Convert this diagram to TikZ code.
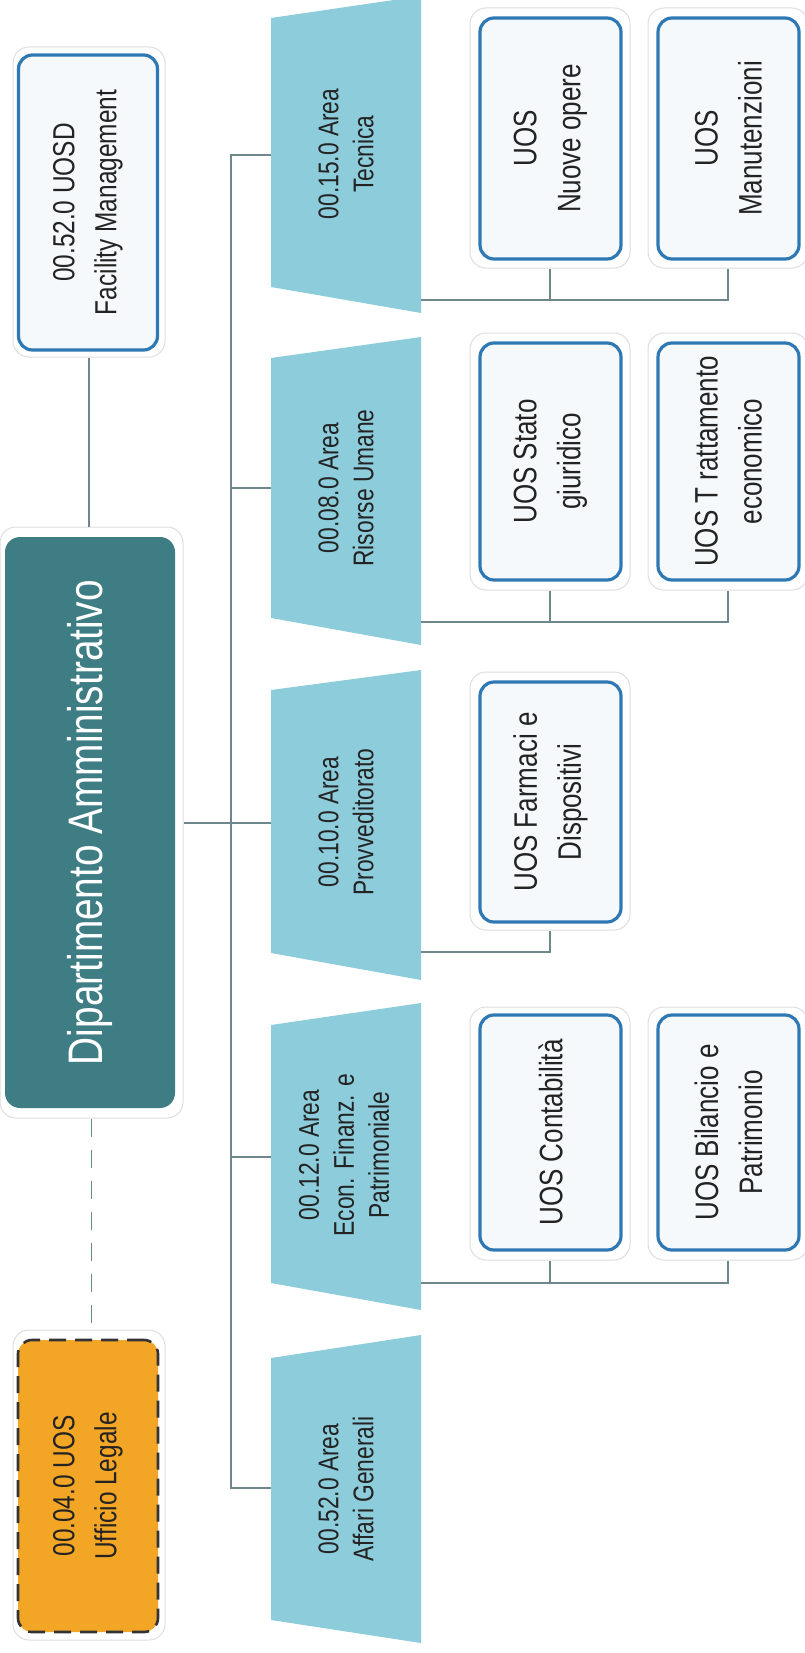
\documentclass[tikz,border=0pt]{standalone}
\usepackage{fontspec}
\setmainfont{Liberation Sans}[FakeStretch=0.8]
\definecolor{areafill}{RGB}{141,204,219}
\definecolor{tealc}{RGB}{62,125,132}
\definecolor{uosblue}{RGB}{46,120,180}
\definecolor{uosfill}{RGB}{246,249,251}
\definecolor{orangec}{RGB}{243,166,38}
\definecolor{connc}{RGB}{110,135,140}
\definecolor{txtc}{RGB}{35,35,35}
\definecolor{glowc}{RGB}{222,222,222}
\begin{document}
\begin{tikzpicture}[x=1pt,y=-1pt,
  conn/.style={draw=connc, line width=1.3pt},
  glow/.style={draw=glowc, fill=white, rounded corners=16pt, line width=1pt, inner sep=0pt},
  uosbox/.style={draw=uosblue, fill=uosfill, rounded corners=14pt, line width=3.2pt, inner sep=0pt},
  legalbox/.style={draw=black!80, fill=orangec, rounded corners=14pt, line width=2.6pt, dash pattern=on 17pt off 9pt, inner sep=0pt},
  dipbox/.style={fill=tealc, rounded corners=15pt, inner sep=0pt},
  areashape/.style={fill=areafill},
  uostext/.style={rotate=90, align=center, text=txtc, inner sep=0pt, font=\fontsize{32.5}{44}\selectfont},
  areatext/.style={rotate=90, align=center, text=txtc, inner sep=0pt, font=\fontsize{28.5}{35}\selectfont},
  toptext/.style={rotate=90, align=center, text=txtc, inner sep=0pt, font=\fontsize{30.5}{42}\selectfont},
  diptext/.style={rotate=90, align=center, text=white, inner sep=0pt, font=\fontsize{48.5}{58}\selectfont}
]
\useasboundingbox[fill=white] (0,0) rectangle (805,1653);

% ---------- left column ----------
\node[glow, minimum width=152pt, minimum height=310pt] (facO) at (89,202) {};
\node[uosbox, minimum width=139pt, minimum height=295pt] (fac) at (88,202.5) {};
\node[toptext] (facT) at (fac) {00.52.0 UOSD\\Facility Management};

\node[glow, minimum width=183pt, minimum height=591pt] (dipO) at (91.5,822.5) {};
\node[dipbox, minimum width=170pt, minimum height=571pt] (dip) at (90,822.5) {};
\node[diptext] (dipT) at (dip) {Dipartimento Amministrativo};

\node[glow, minimum width=152pt, minimum height=310pt] (legO) at (89,1485) {};
\node[legalbox, minimum width=140pt, minimum height=292pt] (leg) at (88,1486) {};
\node[toptext] (legT) at (leg) {00.04.0 UOS\\Ufficio Legale};

\draw[conn] (facO.south) -- (facO.south |- dipO.north);
\draw[conn, line width=1.1pt, dash pattern=on 18pt off 13pt] (dipO.south) -- (dipO.south |- legO.north);

% ---------- areas ----------
\fill[areashape] (271,18) -- (421,-4) -- (421,313) -- (271,287) -- cycle;
\fill[areashape] (271,358) -- (421,337) -- (421,645) -- (271,618) -- cycle;
\fill[areashape] (271,690) -- (421,670) -- (421,980) -- (271,953) -- cycle;
\fill[areashape] (271,1025) -- (421,1003) -- (421,1310) -- (271,1283) -- cycle;
\fill[areashape] (271,1358) -- (421,1335) -- (421,1643) -- (271,1620) -- cycle;

\node[areatext] (tec) at (346,154) {00.15.0 Area\\Tecnica};
\node[areatext] (ris) at (346,488) {00.08.0 Area\\Risorse Umane};
\node[areatext] (pro) at (346,822) {00.10.0 Area\\Provveditorato};
\node[areatext] (eco) at (344,1155) {00.12.0 Area\\Econ. Finanz. e\\Patrimoniale};
\node[areatext] (aff) at (346,1489) {00.52.0 Area\\Affari Generali};

\coordinate (tecL) at (271,155);
\coordinate (risL) at (271,488);
\coordinate (proL) at (271,823);
\coordinate (ecoL) at (271,1157);
\coordinate (affL) at (271,1488);
\coordinate (busTop) at (231,155);
\coordinate (busBot) at (231,1488);

\coordinate (tecR) at (421,300);
\coordinate (risR) at (421,622);
\coordinate (proR) at (421,952);
\coordinate (ecoR) at (421,1283);

\draw[conn] (tecL) -- (busTop) -- (busBot) -- (affL);
\draw[conn] (risL) -- (risL -| busTop);
\draw[conn] (dipO.east |- proL) -- (proL);
\draw[conn] (ecoL) -- (ecoL -| busTop);

% ---------- UOS boxes ----------
% Tecnica
\node[glow, minimum width=160pt, minimum height=260pt] (nuoO) at (550,138) {};
\node[uosbox, minimum width=141pt, minimum height=241pt] (nuo) at (550.5,138.5) {};
\node[uostext] (nuoT) at (nuo) {UOS\\Nuove opere};
\node[glow, minimum width=160pt, minimum height=260pt] (manO) at (728,138) {};
\node[uosbox, minimum width=141pt, minimum height=241pt] (man) at (728.5,138.5) {};
\node[uostext] (manT) at (man) {UOS\\Manutenzioni};

% Risorse Umane
\node[glow, minimum width=160pt, minimum height=257pt] (staO) at (550,461.5) {};
\node[uosbox, minimum width=141pt, minimum height=237pt] (sta) at (550.5,461.5) {};
\node[uostext] (staT) at (sta) {UOS Stato\\giuridico};
\node[glow, minimum width=160pt, minimum height=257pt] (traO) at (728,461.5) {};
\node[uosbox, minimum width=141pt, minimum height=237pt] (tra) at (728.5,461.5) {};
\node[uostext] (traT) at (tra) {UOS T rattamento\\economico};

% Provveditorato
\node[glow, minimum width=160pt, minimum height=258pt] (farO) at (550,801) {};
\node[uosbox, minimum width=141pt, minimum height=240pt] (far) at (550.5,802) {};
\node[uostext] (farT) at (far) {UOS Farmaci e\\Dispositivi};

% Econ. Finanz.
\node[glow, minimum width=160pt, minimum height=253pt] (conO) at (550,1133.5) {};
\node[uosbox, minimum width=141pt, minimum height=235pt] (con) at (550.5,1132.5) {};
\node[uostext] (conT) at (con) {UOS Contabilità};
\node[glow, minimum width=160pt, minimum height=253pt] (bilO) at (728,1133.5) {};
\node[uosbox, minimum width=141pt, minimum height=235pt] (bil) at (728.5,1132.5) {};
\node[uostext] (bilT) at (bil) {UOS Bilancio e\\Patrimonio};

% ---------- child connectors ----------
\draw[conn] (tecR) -- (tecR -| manO.south) -- (manO.south);
\draw[conn] (nuoO.south) -- (nuoO.south |- tecR);
\draw[conn] (risR) -- (risR -| traO.south) -- (traO.south);
\draw[conn] (staO.south) -- (staO.south |- risR);
\draw[conn] (proR) -- (proR -| farO.south) -- (farO.south);
\draw[conn] (ecoR) -- (ecoR -| bilO.south) -- (bilO.south);
\draw[conn] (conO.south) -- (conO.south |- ecoR);
\end{tikzpicture}
\end{document}
